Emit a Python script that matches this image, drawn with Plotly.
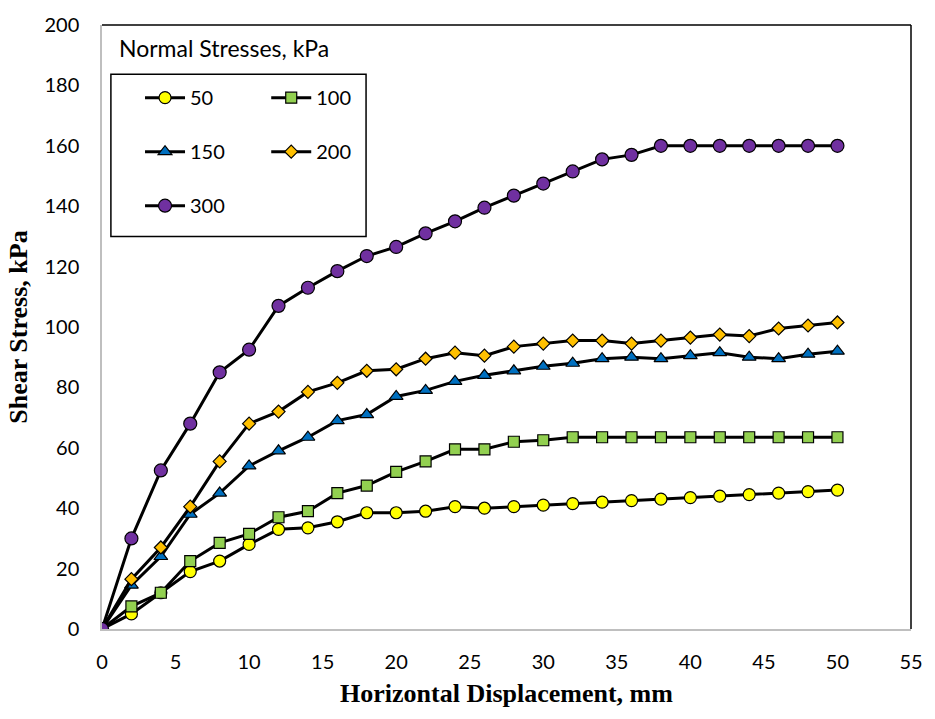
import plotly.graph_objects as go

x_mm = [0, 2, 4, 6, 8, 10, 12, 14, 16, 18, 20, 22, 24, 26, 28, 30, 32, 34, 36, 38, 40, 42, 44, 46, 48, 50]

s50 = [0, 5, 12, 19, 22.5, 28, 33, 33.5, 35.5, 38.5, 38.5, 39, 40.5, 40, 40.5, 41, 41.5, 42, 42.5, 43, 43.5, 44, 44.5, 45, 45.5, 46]
s100 = [0, 7.5, 12, 22.5, 28.5, 31.5, 37, 39, 45, 47.5, 52, 55.5, 59.5, 59.5, 62, 62.5, 63.5, 63.5, 63.5, 63.5, 63.5, 63.5, 63.5, 63.5, 63.5, 63.5]
s150 = [0, 14.5, 24, 38, 45, 54, 59, 63.5, 69, 71, 77, 79, 82, 84, 85.5, 87, 88, 89.5, 90, 89.5, 90.5, 91.5, 90, 89.5, 91, 92]
s200 = [0, 16.5, 27, 40.5, 55.5, 68, 72, 78.5, 81.5, 85.5, 86, 89.5, 91.5, 90.5, 93.5, 94.5, 95.5, 95.5, 94.5, 95.5, 96.5, 97.5, 97, 99.5, 100.5, 101.5]
s300 = [0, 30, 52.5, 68, 85, 92.5, 107, 113, 118.5, 123.5, 126.5, 131, 135, 139.5, 143.5, 147.5, 151.5, 155.5, 157, 160, 160, 160, 160, 160, 160, 160]

series_names = ["50", "100", "150", "200", "300"]
series_vals = [s50, s100, s150, s200, s300]
colors = ["#FFFF00", "#92D050", "#0070C0", "#FFC000", "#7030A0"]
symbols = ["circle", "square", "triangle-up", "diamond", "circle"]
sizes = [12, 11, 12, 10, 13]
legend_ids = ["legend", "legend2", "legend", "legend2", "legend"]

fig = go.Figure()
for name, vals, c, sym, sz, lg in zip(series_names, series_vals, colors, symbols, sizes, legend_ids):
    fig.add_trace(go.Scatter(
        x=x_mm, y=vals, name=name, mode="lines+markers",
        line=dict(color="black", width=3),
        marker=dict(color=c, symbol=sym, size=sz, line=dict(color="black", width=1.2)),
        legend=lg, legendgroup=name,
    ))

sans = "Lato, Carlito, Calibri, sans-serif"
serif = "Liberation Serif, Times New Roman, serif"
font_tick = dict(family=sans, size=20, color="black")
legend_common = dict(
    bgcolor="rgba(0,0,0,0)", borderwidth=0,
    font=dict(family=sans, size=20, color="black"), itemwidth=40, tracegroupgap=25,
    xanchor="left", yanchor="top", orientation="v",
)

fig.update_layout(
    width=935, height=719,
    margin=dict(l=102, r=15, t=17, b=90),
    plot_bgcolor="white", paper_bgcolor="white",
    xaxis=dict(range=[0, 55], tickmode="linear", tick0=0, dtick=5,
               showgrid=False, zeroline=False, showline=True, linecolor="#BFBFBF", linewidth=1.5,
               ticks="", tickfont=font_tick, ticklabelstandoff=14,
               title=dict(text="<b>Horizontal Displacement, mm</b>",
                          font=dict(family=serif, size=26, color="black"),
                          standoff=12)),
    yaxis=dict(range=[0, 200], tickmode="linear", tick0=0, dtick=20,
               showgrid=False, zeroline=False, showline=True, linecolor="#BFBFBF", linewidth=1.5,
               ticks="", tickfont=font_tick, ticklabelstandoff=17,
               title=dict(text="<b>Shear Stress, kPa</b>",
                          font=dict(family=serif, size=26, color="black"),
                          standoff=9)),
    legend=dict(x=0.047, y=0.912, **legend_common),
    legend2=dict(x=0.203, y=0.912, **legend_common),
    showlegend=True,
)

# legend box and chart frame (top & right)
fig.add_shape(type="rect", xref="paper", yref="paper", x0=0.011, x1=0.3264, y0=0.6499, y1=0.9183,
              line=dict(color="black", width=1.5), fillcolor="rgba(0,0,0,0)")
fig.add_shape(type="line", xref="paper", yref="paper", x0=0, x1=1, y0=1, y1=1,
              line=dict(color="black", width=1.5))
fig.add_shape(type="line", xref="paper", yref="paper", x0=1, x1=1, y0=0, y1=1,
              line=dict(color="black", width=1.5))

fig.add_annotation(text="Normal Stresses, kPa", xref="paper", yref="paper",
                   x=0.019, y=0.988, xanchor="left", yanchor="top", showarrow=False,
                   font=dict(family=sans, size=23, color="black"))

fig.write_html("out.html")
